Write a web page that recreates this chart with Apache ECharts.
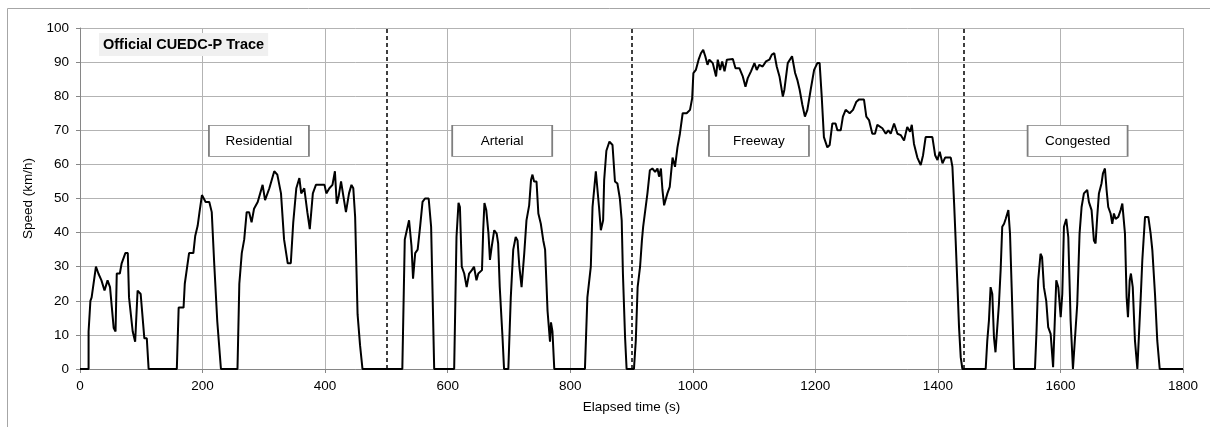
<!DOCTYPE html>
<html>
<head>
<meta charset="utf-8">
<script src="https://cdn.jsdelivr.net/npm/echarts@6/dist/echarts.min.js"></script>
<style>
html,body{margin:0;padding:0;background:#fff;}
#c{width:1210px;height:427px;}
</style>
</head>
<body>
<div id="c"></div>
<script>
// Elapsed time (s)
const times = [
0,14,14,17,19,26,30,35,40,45,49,52,55,58,60,65,68,74,78,80,86,90,94,99,105,109,112,158,161,169,171,174,178,185,188,192,195,199,205,211,215,219,224,230,257,260,264,268,272,276,280,284,290,293,298,302,309,317,322,328,333,339,344,348,353,358,361,366,371,375,380,385,399,402,407,412,416,419,422,426,430,434,439,443,446,449,453,457,461,526,
530,537,541,543.5,547,551,555,559,563,569,573,575.5,578,610.6,614.4,617.7,620,623,627,631,635,639.5,643,647,650,656,658,660,663,666.6,669,672,676,680,682.4,685,689.5,692,699,703,707,711,714,717,720.6,725,728.6,733,736,738.4,741,745,748,752,756,759,763,767,768.6,771,774,824,828,833.6,836.4,841.8,847,850,853.7,855.4,859,864,869,873,877,881,884,886,889.5,892,904,
907,910,914,917,919,922,926,930,934,938.6,942.4,945,948,950.5,953.2,958.6,962.4,967,971,975,979,983.5,990,995.5,999,1001,1005,1009.5,1013.3,1017,1020.4,1024,1027,1032.6,1038,1040.8,1044.6,1048,1051.8,1055.6,1065.4,1069.7,1076,1081.6,1086,1089.7,1095,1100.6,1104.4,1108.7,1114,1119.5,1125,1129,1133,1137,1141.5,1147,1149.5,1155,1158,1162,1167,1170.6,1174.4,1178.8,1183,1187,1192.4,1198,1203.3,1207,1210.4,1214,1219.6,1223.4,1227.8,1233,1236,1241.4,1245,1249.5,1256,1261.5,1267,1271,1279.4,1283.2,1287.6,1293,1297.4,1301.2,1309.4,1315,1319.2,1323,1328.5,1334,1339.3,1344.8,1350,1354.6,1357.4,1361,1366.5,1372,1375.8,1380,1391,1395.5,1399.3,1403,1407.5,1411.8,1421,1423.7,1426.5,1429,1432,1434.5,1437.3,1440,
1478,1480.6,1483.3,1486,1488.8,1491.5,1494,1497,1499.6,1502.4,1505,1508,1510.6,1515,1517.7,1520.4,1524.3,1558.4,1561,1563.7,1567.5,1570,1573,1576.8,1580,1584,1588,1591,1593.2,1596.5,1600.4,1603,1605.7,1609.5,1612.8,1616.6,1620.4,1623.6,1627.4,1631.2,1634.5,1638.3,1643.7,1646.4,1650.8,1654.6,1657.3,1660,1662.8,1667,1669.4,1672.6,1675.3,1678,1681.8,1684.6,1687.3,1690,1694.4,1698.2,1701,1705.3,1708,1710.2,1713,1715,1718,1721.6,1725.5,1728,1731,1733.6,1738,1743.4,1747.2,1750,1754.3,1758,1760,1762,1800
];
// Speed (km/h)
const speeds = [
0,0,11,20,21,30,28,26,23,26,24,18,12,11,28,28,31,34,34,21,11,8,23,22,9,9,0,0,18,18,25,25,34,34,39,42,46,51,49,49,46,31,14,0,0,25,34,38,46,46,43,47,49,49,54,49.5,53,58,57,51.5,38,31,31,43,53,56,51.5,53,46,41,51.5,54,54,51.5,53,54,58,48.5,50.5,55,50.5,46,51.5,54,53,44.6,16,7,0,0,
38,43.6,36,26.5,34,35,41.7,49,50,50,41.7,21,0,0,38.7,48.7,47.5,30,28,24,28,29,30,26,28,29,40.7,48.7,46.6,39.7,32,36,40.7,39.7,36.8,24,9.3,0,0,21,35,38.7,37.7,30,24,34,43.6,48,55.4,57,55,55,45.6,42.6,37.7,35,17,8,13.7,11,0,0,21,30,47.5,58,47.5,40.7,43.6,55.4,64,66.7,65.7,55,54.4,50,43.6,28,9.3,0,0,
8.3,24,30,37.7,41.7,41.7,51.5,58.3,58.8,57.8,58.8,56.4,58.8,52.5,48,51.5,53.4,62,59.3,65,69,75,75,76,79.4,86.8,87.7,90.7,92.6,93.6,91.7,89.2,90.7,89.7,85.8,90.7,87.7,90.2,87.3,90.7,90.9,88.2,88.2,85.8,82.8,85.3,87.3,89.7,87.7,89.2,88.7,90.2,90.7,92.2,92.6,88.7,85.8,79.9,81.9,89.7,89.7,91.7,86.8,84.8,81.9,77.5,74,76,81.9,87.7,89.7,89.7,80,68,65,65.7,72,72,70,70,74,76,75,76,78.4,79,79,74,73,69,69,71.6,70.6,69,70,69,72,69,68.6,67,71,69.6,71.6,66,62,59.8,62.7,68,68,62.7,61.3,63.7,60.3,62,62,59.3,48.5,37.7,24,12.2,3.4,0,
0,8.3,14.2,24,22,9.3,4.9,5,19,29,41.7,42.6,44,46.6,39.7,24,0,0,11.3,26,33.8,32.8,24,20,12.3,10.3,0.5,0,26,24,15.2,22,41.7,44,38.7,14.2,0,0,19,39.7,47.5,51.5,52.5,49,46.6,37.7,36.8,44.6,51.5,54.4,57.4,58.8,52.5,47.5,45.6,42.6,45.6,44,44.6,46.6,48.5,39.7,21,15.2,26,28,24,8.3,0,0,21,31.9,44.6,44.6,39.7,34.8,22,8.3,8.3,0,0
];
// Section boundaries (s)
const boundaries = [500, 900, 1443];
// Section labels and their anchor [time, speed]
const sectionNames = ['Residential', 'Arterial', 'Freeway', 'Congested'];
const sectionAnchors = [[292, 66.9], [689, 66.9], [1108, 66.9], [1628, 66.9]];
const titleText = 'Official CUEDC-P Trace';

const trace = times.map((t, i) => [t, speeds[i]]);
const FONT = '"Liberation Sans", Arial, sans-serif';
const FS = 13.5;

const chart = echarts.init(document.getElementById('c'), null, {renderer: 'canvas'});
chart.setOption({
  animation: false,
  backgroundColor: '#fff',
  title: {
    text: titleText,
    left: 99, top: 33,
    padding: [4, 4, 4, 4],
    backgroundColor: '#f0f0f0',
    textStyle: {fontFamily: FONT, fontSize: 14.5, fontWeight: 'bold', color: '#000'}
  },
  graphic: [{
    type: 'rect', silent: true,
    shape: {x: 7.5, y: 8.5, width: 1300, height: 600},
    style: {fill: 'none', stroke: '#a6a6a6', lineWidth: 1}
  }],
  grid: {left: 80, right: 27, top: 28, bottom: 58, containLabel: false},
  xAxis: {
    type: 'value', min: 0, max: 1800, interval: 200,
    name: 'Elapsed time (s)', nameLocation: 'middle', nameGap: 31,
    nameTextStyle: {fontFamily: FONT, fontSize: FS, color: '#000'},
    axisLine: {show: true, lineStyle: {color: '#868686', width: 1}},
    axisTick: {show: true, length: 4, lineStyle: {color: '#868686'}},
    axisLabel: {fontFamily: FONT, fontSize: FS, color: '#000', margin: 10,
      formatter: v => String(v)},
    splitLine: {show: true, lineStyle: {color: '#b3b3b3', width: 1}}
  },
  yAxis: {
    type: 'value', min: 0, max: 100, interval: 10,
    name: 'Speed (km/h)', nameLocation: 'middle', nameGap: 39, nameRotate: 90,
    nameTextStyle: {fontFamily: FONT, fontSize: FS, color: '#000'},
    axisLine: {show: true, lineStyle: {color: '#868686', width: 1}},
    axisTick: {show: true, length: 4, lineStyle: {color: '#868686'}},
    axisLabel: {fontFamily: FONT, fontSize: FS, color: '#000', margin: 11,
      formatter: v => String(v)},
    splitLine: {show: true, lineStyle: {color: '#b3b3b3', width: 1}}
  },
  series: [{
    type: 'line',
    data: trace,
    showSymbol: false,
    symbol: 'none',
    lineStyle: {color: '#000', width: 2},
    z: 5,
    markLine: {
      silent: true,
      symbol: ['none', 'none'],
      label: {show: false},
      lineStyle: {color: '#000', type: [4, 3], width: 1.5},
      data: boundaries.map(b => ({xAxis: b}))
    },
    markPoint: {
      silent: true,
      symbol: 'rect',
      symbolSize: [100, 31],
      itemStyle: {color: '#fff', borderColor: '#7f7f7f', borderWidth: 1},
      label: {show: true, position: 'inside', fontFamily: FONT, fontSize: FS, color: '#000'},
      data: sectionNames.map((n, i) => ({name: n, coord: sectionAnchors[i], value: n,
        label: {formatter: n}}))
    }
  }]
});
</script>
</body>
</html>
